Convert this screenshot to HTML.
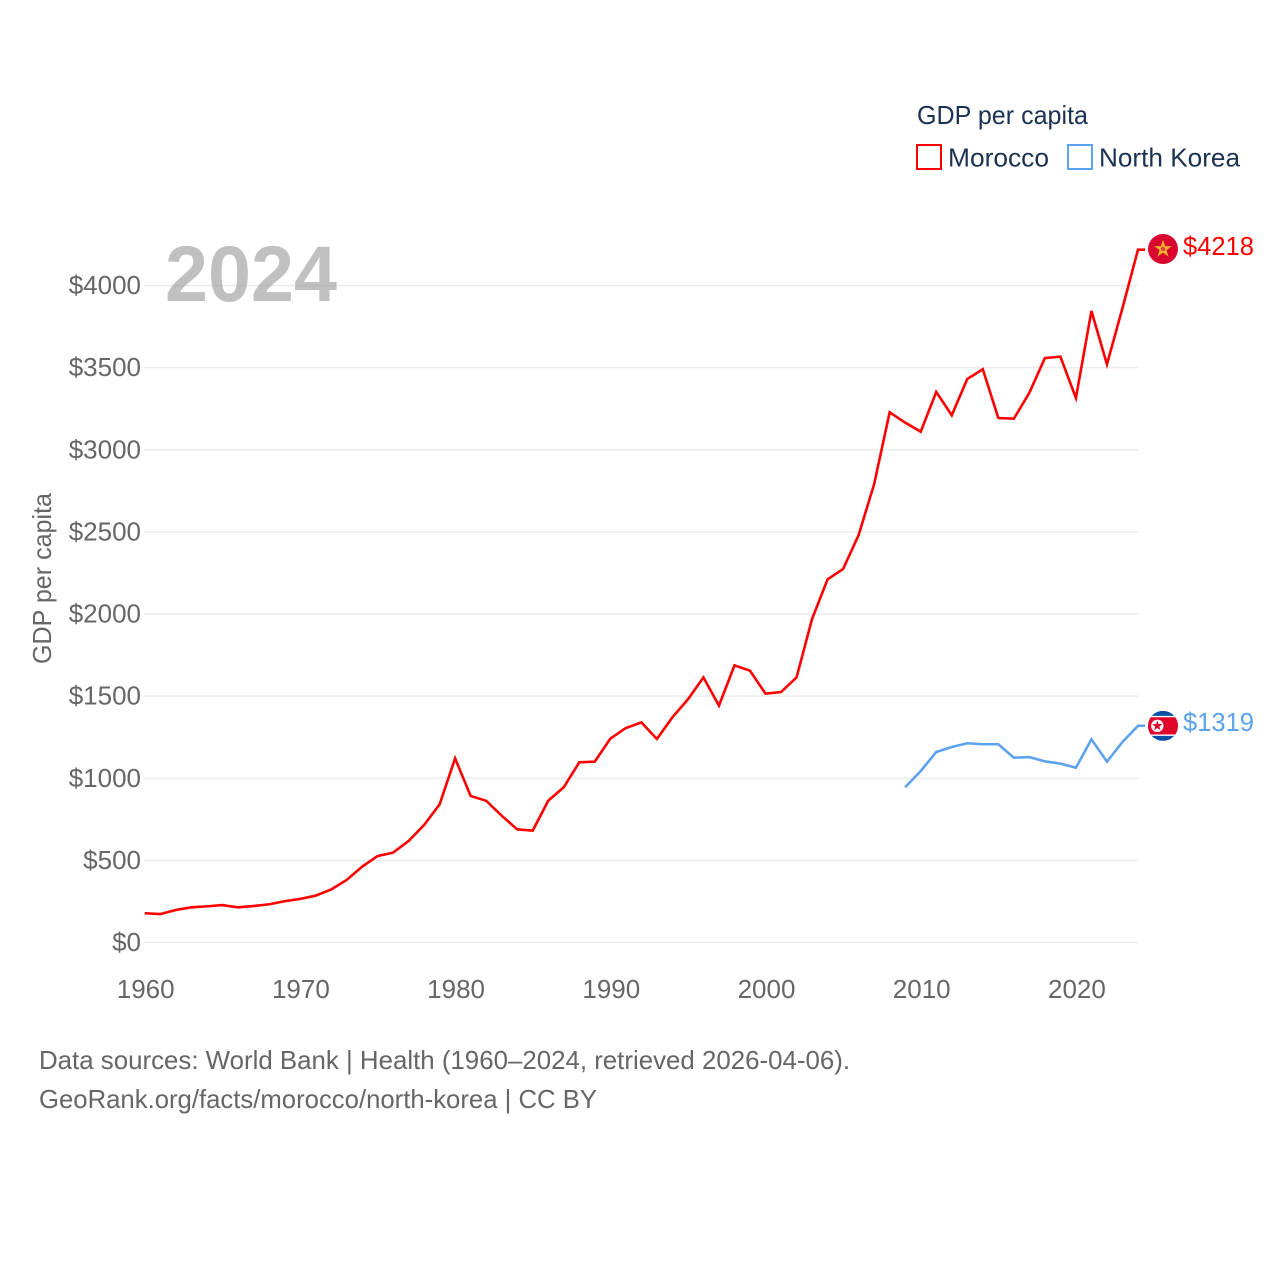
<!DOCTYPE html>
<html lang="en">
<head>
<meta charset="utf-8">
<title>GDP per capita: Morocco and North Korea</title>
<style>
html,body{margin:0;padding:0;background:#fff;}
svg{display:block;font-family:"Liberation Sans",Arial,sans-serif;}
</style>
</head>
<body>
<svg id="chart" xmlns="http://www.w3.org/2000/svg" width="1280" height="1280" viewBox="0 0 1280 1280">
  <rect x="0" y="0" width="1280" height="1280" fill="#ffffff"/>
  <defs>
    <clipPath id="kp-clip"><circle cx="0" cy="0" r="15"/></clipPath>
  </defs>
  <g id="grid"></g>
  <g id="y-ticks"></g>
  <g id="x-ticks"></g>
  <text x="165" y="301" font-size="79" font-weight="700" fill="#999999" fill-opacity="0.62" textLength="172" lengthAdjust="spacingAndGlyphs">2024</text>
  <text transform="translate(51,578.5) rotate(-90)" text-anchor="middle" font-size="26" fill="#666666" textLength="171" lengthAdjust="spacingAndGlyphs">GDP per capita</text>
  <g id="series"></g>
  <g id="morocco-end">
    <circle cx="0" cy="0" r="15" fill="#d9072f"/>
    <polygon points="0,-8.5 2,-2.7 8.1,-2.6 3.2,1 5,6.9 0,3.4 -5,6.9 -3.2,1 -8.1,-2.6 -2,-2.7" fill="#f2b632" stroke="#e8a020" stroke-width="0.6"/>
    <polygon points="0,-2.6 2.4,-0.8 1.5,2 -1.5,2 -2.4,-0.8" fill="#e0403a"/>
  </g>
  <g id="korea-end">
    <g clip-path="url(#kp-clip)">
      <rect x="-15" y="-15" width="30" height="30" fill="#0a4fa8"/>
      <rect x="-15" y="-10" width="30" height="20" fill="#ffffff"/>
      <rect x="-15" y="-8.6" width="30" height="17.2" fill="#e0062b"/>
      <circle cx="-5.7" cy="0" r="6.2" fill="#ffffff"/>
      <polygon points="-5.7,-5.4 -4.4,-1.8 -0.6,-1.7 -3.6,0.7 -2.5,4.4 -5.7,2.2 -8.9,4.4 -7.8,0.7 -10.8,-1.7 -7,-1.8" fill="#e0062b"/>
    </g>
  </g>
  <text id="morocco-value" x="1183" font-size="26" fill="#ff0000" textLength="71" lengthAdjust="spacingAndGlyphs"></text>
  <text id="korea-value" x="1183" font-size="26" fill="#5ba3ee" textLength="71" lengthAdjust="spacingAndGlyphs"></text>

  <g>
    <text x="917" y="124" font-size="26" fill="#1b3252" textLength="171" lengthAdjust="spacingAndGlyphs">GDP per capita</text>
    <g>
      <rect x="917" y="145" width="24" height="24" fill="none" stroke="#ff0000" stroke-width="2"/>
      <text x="948" y="166.5" font-size="26" fill="#1b3252" textLength="101" lengthAdjust="spacingAndGlyphs">Morocco</text>
    </g>
    <g>
      <rect x="1068" y="145" width="24" height="24" fill="none" stroke="#5ba3ee" stroke-width="2"/>
      <text x="1099" y="166.5" font-size="26" fill="#1b3252" textLength="141" lengthAdjust="spacingAndGlyphs">North Korea</text>
    </g>
  </g>

  <text x="39" y="1069" font-size="26" fill="#666666" textLength="811" lengthAdjust="spacingAndGlyphs">Data sources: World Bank | Health (1960–2024, retrieved 2026-04-06).</text>
  <text x="39" y="1108" font-size="26" fill="#666666" textLength="558" lengthAdjust="spacingAndGlyphs">GeoRank.org/facts/morocco/north-korea | CC BY</text>
</svg>
<script>
const moroccoYears = [1960,1961,1962,1963,1964,1965,1966,1967,1968,1969,1970,1971,1972,1973,1974,1975,1976,1977,1978,1979,1980,1981,1982,1983,1984,1985,1986,1987,1988,1989,1990,1991,1992,1993,1994,1995,1996,1997,1998,1999,2000,2001,2002,2003,2004,2005,2006,2007,2008,2009,2010,2011,2012,2013,2014,2015,2016,2017,2018,2019,2020,2021,2022,2023,2024];
const moroccoValues = [178,173,198,214,220,228,214,222,232,251,265,285,322,380,461,526,547,618,715,841,1121,892,863,772,689,681,863,945,1097,1101,1241,1306,1340,1239,1371,1480,1614,1442,1687,1655,1515,1525,1614,1970,2211,2274,2481,2791,3228,3165,3110,3352,3210,3431,3490,3193,3189,3347,3558,3567,3315,3845,3520,3863,4218];
const koreaYears = [2009,2010,2011,2012,2013,2014,2015,2016,2017,2018,2019,2020,2021,2022,2023,2024];
const koreaValues = [945,1044,1160,1190,1213,1207,1207,1125,1129,1103,1089,1064,1237,1101,1221,1319];
const yTickValues = [0,500,1000,1500,2000,2500,3000,3500,4000];
const yTickLabels = ['$0','$500','$1000','$1500','$2000','$2500','$3000','$3500','$4000'];
const xTickValues = [1960,1970,1980,1990,2000,2010,2020];
const xTickLabels = ['1960','1970','1980','1990','2000','2010','2020'];
const moroccoEndLabel = '$4218';
const koreaEndLabel = '$1319';

const SVG_NS = 'http://www.w3.org/2000/svg';
function xScale(year) { return 144.7 + (year - 1960) * (993.3 / 64); }
function yScale(value) { return 942.5 - value * (657 / 4000); }

const gridLayer = document.getElementById('grid');
const yTickLayer = document.getElementById('y-ticks');
const xTickLayer = document.getElementById('x-ticks');
const seriesLayer = document.getElementById('series');

yTickValues.forEach(function (value, i) {
  const line = document.createElementNS(SVG_NS, 'line');
  
  
  line.setAttribute('x1', 144);
  line.setAttribute('x2', 1138);
  line.setAttribute('y1', yScale(value));
  line.setAttribute('y2', yScale(value));
  line.setAttribute('stroke', '#ececec');
  line.setAttribute('stroke-width', 1.6);
  gridLayer.appendChild(line);

  const label = document.createElementNS(SVG_NS, 'text');
  
  
  label.setAttribute('x', 141);
  label.setAttribute('y', yScale(value) + 8.5);
  label.setAttribute('text-anchor', 'end');
  label.setAttribute('font-size', 26);
  label.setAttribute('fill', '#666666');
  label.textContent = yTickLabels[i];
  yTickLayer.appendChild(label);
});

xTickValues.forEach(function (year, i) {
  const label = document.createElementNS(SVG_NS, 'text');
  
  
  label.setAttribute('x', xScale(year) + 1);
  label.setAttribute('y', 998);
  label.setAttribute('text-anchor', 'middle');
  label.setAttribute('font-size', 26);
  label.setAttribute('fill', '#666666');
  label.textContent = xTickLabels[i];
  xTickLayer.appendChild(label);
});

function linePath(years, values) {
  const parts = years.map(function (year, i) {
    return (i === 0 ? 'M' : 'L') + xScale(year).toFixed(2) + ' ' + yScale(values[i]).toFixed(2);
  });
  const lastY = yScale(values[values.length - 1]).toFixed(2);
  parts.push('L' + (xScale(years[years.length - 1]) + 7).toFixed(2) + ' ' + lastY);
  return parts.join(' ');
}

const moroccoLine = document.createElementNS(SVG_NS, 'path');


moroccoLine.setAttribute('d', linePath(moroccoYears, moroccoValues));
moroccoLine.setAttribute('fill', 'none');
moroccoLine.setAttribute('stroke', '#ff0000');
moroccoLine.setAttribute('stroke-width', 2.6);
moroccoLine.setAttribute('stroke-linejoin', 'miter');
seriesLayer.appendChild(moroccoLine);

const koreaLine = document.createElementNS(SVG_NS, 'path');


koreaLine.setAttribute('d', linePath(koreaYears, koreaValues));
koreaLine.setAttribute('fill', 'none');
koreaLine.setAttribute('stroke', '#5ba3ee');
koreaLine.setAttribute('stroke-width', 2.6);
koreaLine.setAttribute('stroke-linejoin', 'miter');
seriesLayer.appendChild(koreaLine);

const moroccoEndY = yScale(moroccoValues[moroccoValues.length - 1]);
const koreaEndY = yScale(koreaValues[koreaValues.length - 1]);
document.getElementById('morocco-end').setAttribute('transform', 'translate(1163,' + (moroccoEndY - 0.7) + ')');
document.getElementById('korea-end').setAttribute('transform', 'translate(1163,' + koreaEndY + ')');
const moroccoValueText = document.getElementById('morocco-value');
moroccoValueText.setAttribute('y', moroccoEndY + 5.5);
moroccoValueText.textContent = moroccoEndLabel;
const koreaValueText = document.getElementById('korea-value');
koreaValueText.setAttribute('y', koreaEndY + 5);
koreaValueText.textContent = koreaEndLabel;
</script>
</body>
</html>
